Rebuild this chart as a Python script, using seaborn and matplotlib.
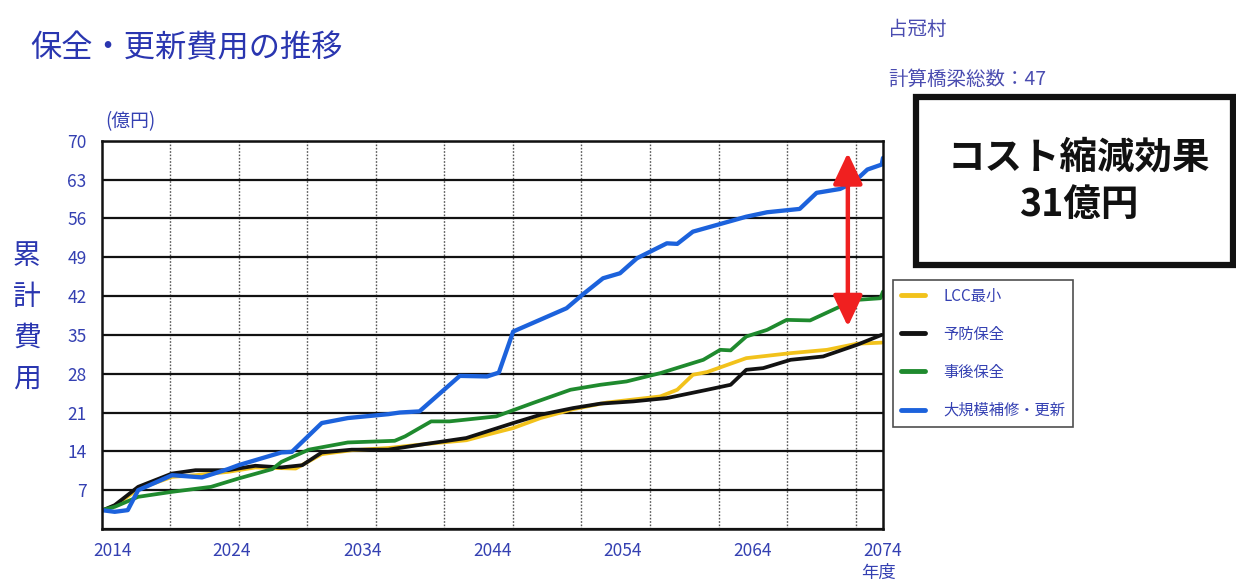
import numpy as np
import pandas as pd
import matplotlib
matplotlib.use("Agg")
import matplotlib.pyplot as plt
import matplotlib.transforms as mtransforms
from matplotlib.patches import Rectangle
import seaborn as sns

# ---------------- data ----------------
series_names = ["LCC最小", "予防保全", "事後保全", "大規模補修・更新"]

lcc_years = [2014.0, 2015.0, 2016.8, 2019.4, 2021.2, 2023.7, 2025.8, 2028.9, 2030.9, 2033.2,
             2036.0, 2038.8, 2042.0, 2043.6, 2045.6, 2047.7, 2050.2, 2052.8, 2056.9, 2058.2,
             2059.4, 2060.5, 2063.5, 2066.9, 2069.7, 2072.0, 2073.9]
lcc_vals = [3.3, 4.2, 7.2, 9.4, 9.7, 10.3, 11.1, 10.9, 13.5, 14.2,
            14.6, 15.3, 16.0, 17.0, 18.2, 20.0, 21.6, 22.8, 23.9, 25.1,
            27.8, 28.3, 30.8, 31.7, 32.3, 33.4, 33.6]

prev_years = [2014.0, 2015.0, 2016.8, 2019.4, 2021.2, 2023.7, 2025.8, 2027.8, 2029.4, 2030.9,
              2033.2, 2036.0, 2038.8, 2042.0, 2043.6, 2045.6, 2047.7, 2050.2, 2052.3, 2054.8,
              2057.4, 2060.5, 2062.3, 2063.5, 2064.8, 2066.9, 2069.4, 2072.0, 2073.9]
prev_vals = [3.3, 4.3, 7.6, 10.0, 10.6, 10.6, 11.4, 11.1, 11.5, 13.8,
             14.3, 14.3, 15.3, 16.4, 17.6, 19.1, 20.6, 21.8, 22.6, 23.0,
             23.6, 25.1, 26.0, 28.7, 29.0, 30.5, 31.1, 33.2, 35.0]

post_years = [2014.0, 2015.0, 2016.8, 2019.4, 2022.4, 2024.5, 2027.1, 2027.8, 2029.9, 2032.9,
              2036.5, 2037.3, 2039.3, 2040.7, 2044.3, 2047.1, 2050.0, 2052.3, 2054.3, 2056.9,
              2060.2, 2061.5, 2062.3, 2063.5, 2065.1, 2066.6, 2068.4, 2070.7, 2072.0, 2073.8,
              2074.0]
post_vals = [3.4, 4.0, 5.8, 6.7, 7.6, 9.1, 10.8, 12.1, 14.3, 15.6,
             15.9, 16.7, 19.4, 19.4, 20.3, 22.7, 25.1, 26.0, 26.6, 28.1,
             30.5, 32.3, 32.2, 34.7, 35.9, 37.7, 37.6, 40.1, 41.3, 41.6,
             42.8]

big_years = [2014.0, 2015.0, 2016.0, 2016.8, 2019.4, 2021.7, 2023.7, 2024.5, 2027.8, 2028.6,
             2030.9, 2032.9, 2036.0, 2036.9, 2038.4, 2041.5, 2043.6, 2044.5, 2045.6, 2049.7,
             2050.9, 2052.5, 2053.8, 2055.1, 2057.4, 2058.2, 2059.4, 2063.5, 2065.1, 2067.6,
             2068.9, 2070.7, 2071.7, 2072.8, 2073.9, 2074.0]
big_vals = [3.4, 3.1, 3.4, 7.0, 9.7, 9.3, 10.8, 11.5, 13.8, 13.9,
            19.1, 20.0, 20.7, 21.0, 21.2, 27.6, 27.5, 28.2, 35.6, 39.8,
            42.2, 45.2, 46.1, 48.8, 51.5, 51.4, 53.6, 56.3, 57.1, 57.7,
            60.6, 61.3, 62.4, 64.8, 65.7, 66.9]

x_tick_years = [2014, 2024, 2034, 2044, 2054, 2064, 2074]
y_ticks = [0, 7, 14, 21, 28, 35, 42, 49, 56, 63, 70]

arrow_year = 2071.3
arrow_low, arrow_high = 36.5, 67.8

title_text = "保全・更新費用の推移"
ylabel_chars = ["累", "計", "費", "用"]
unit_text = "(億円)"
xunit_text = "年度"
village_text = "占冠村"
count_text = "計算橋梁総数：47"
effect_text = "コスト縮減効果\n31億円"

# ---------------- build table ----------------
frames = []
for name, xs, ys in [(series_names[0], lcc_years, lcc_vals),
                     (series_names[1], prev_years, prev_vals),
                     (series_names[2], post_years, post_vals),
                     (series_names[3], big_years, big_vals)]:
    frames.append(pd.DataFrame({"year": xs, "cost": ys, "series": name}))
df = pd.concat(frames, ignore_index=True)

# ---------------- style ----------------
sns.set_theme(style="white")
plt.rcParams["font.family"] = ["Noto Sans CJK JP", "DejaVu Sans"]

blue_text = "#3440b2"
palette = {series_names[0]: "#f2c21b", series_names[1]: "#121212",
           series_names[2]: "#1f8a2e", series_names[3]: "#1c62dc"}

W, H = 1236, 583
fig = plt.figure(figsize=(W / 100, H / 100), dpi=100)
ax = fig.add_axes([101.7 / W, 1 - 529 / H, (883 - 101.7) / W, (529 - 140.7) / H])

sns.lineplot(data=df, x="year", y="cost", hue="series", palette=palette,
             hue_order=series_names, estimator=None, sort=True, ax=ax,
             linewidth=2.7, legend=True)
for line in ax.get_lines():
    if line.get_color().lower() == palette[series_names[3]]:
        line.set_linewidth(3.1)

ax.set_xlim(2014, 2074)
ax.set_ylim(0, 70)
ax.set_xlabel("")
ax.set_ylabel("")

ax.set_yticks(y_ticks)
ax.set_yticklabels([("" if v == 0 else str(v)) for v in y_ticks])
ax.set_xticks(x_tick_years)
ax.set_xticklabels([str(v) for v in x_tick_years])
grid_step = 60 / 11.4
ax.set_xticks([2014 + grid_step * k for k in range(1, 12)], minor=True)

ax.tick_params(axis="both", which="both", length=0, colors=blue_text, labelsize=12.5)
ax.tick_params(axis="y", pad=11)
ax.tick_params(axis="x", pad=9)
ax.grid(False)
ax.grid(True, axis="y", which="major", color="#111111", linewidth=1.6)
ax.grid(True, axis="x", which="minor", color="#555555", linewidth=1.0, linestyle=(0, (1.2, 1.2)))
ax.set_axisbelow(True)
for sp in ax.spines.values():
    sp.set_color("#111111")
    sp.set_linewidth(1.8)
    sp.set_visible(True)

# shift first x label a bit to the right (as in reference)
lab0 = ax.get_xticklabels()[0]
lab0.set_transform(lab0.get_transform() + mtransforms.ScaledTranslation(8 / 72, 0, fig.dpi_scale_trans))

# red double arrow
ax.annotate("", xy=(arrow_year, arrow_low), xytext=(arrow_year, arrow_high),
            arrowprops=dict(arrowstyle="<|-|>,head_length=0.95,head_width=0.45",
                            mutation_scale=20, color="#f02020", lw=3.2,
                            shrinkA=0, shrinkB=0), zorder=6)

# legend
handles, labels = ax.get_legend_handles_labels()
leg = ax.legend(handles, labels, loc="upper left",
                bbox_to_anchor=(893 / W, 1 - 280 / H), bbox_transform=fig.transFigure,
                borderaxespad=0, frameon=True, fancybox=False, fontsize=11,
                labelspacing=1.38, handlelength=1.6, handletextpad=1.2,
                borderpad=0.5, edgecolor="#222222")
leg.get_frame().set_linewidth(1.2)
for t in leg.get_texts():
    t.set_color(blue_text)
for lh in leg.get_lines():
    lh.set_linewidth(3.5)

# texts
fig.text(30 / W, 1 - 48 / H, title_text, fontsize=22.5, color="#2a36b0",
         ha="left", va="center")
for i, ch in enumerate(ylabel_chars):
    fig.text(27 / W, 1 - (256 + 41 * i) / H, ch, fontsize=20, color="#2a36b0",
             ha="center", va="center")
fig.text(130 / W, 1 - 122 / H, unit_text, fontsize=13.5, color=blue_text,
         ha="center", va="center")
fig.text(878 / W, 1 - 573 / H, xunit_text, fontsize=12.5, color=blue_text,
         ha="center", va="center")
fig.text(888 / W, 1 - 29 / H, village_text, fontsize=14, color="#4a4cb0",
         ha="left", va="center")
fig.text(888 / W, 1 - 79 / H, count_text, fontsize=14, color="#4a4cb0",
         ha="left", va="center")

# effect box
fig.patches.append(Rectangle((916 / W, 1 - 265 / H), (1233 - 916) / W, (265 - 97) / H,
                             transform=fig.transFigure, fill=False,
                             edgecolor="#111111", linewidth=4.5, zorder=5))
fig.text(1079 / W, 1 - 181 / H, effect_text, fontsize=27, fontweight="bold",
         color="#111111", ha="center", va="center", linespacing=1.25)

fig.savefig("out.png", dpi=100)
